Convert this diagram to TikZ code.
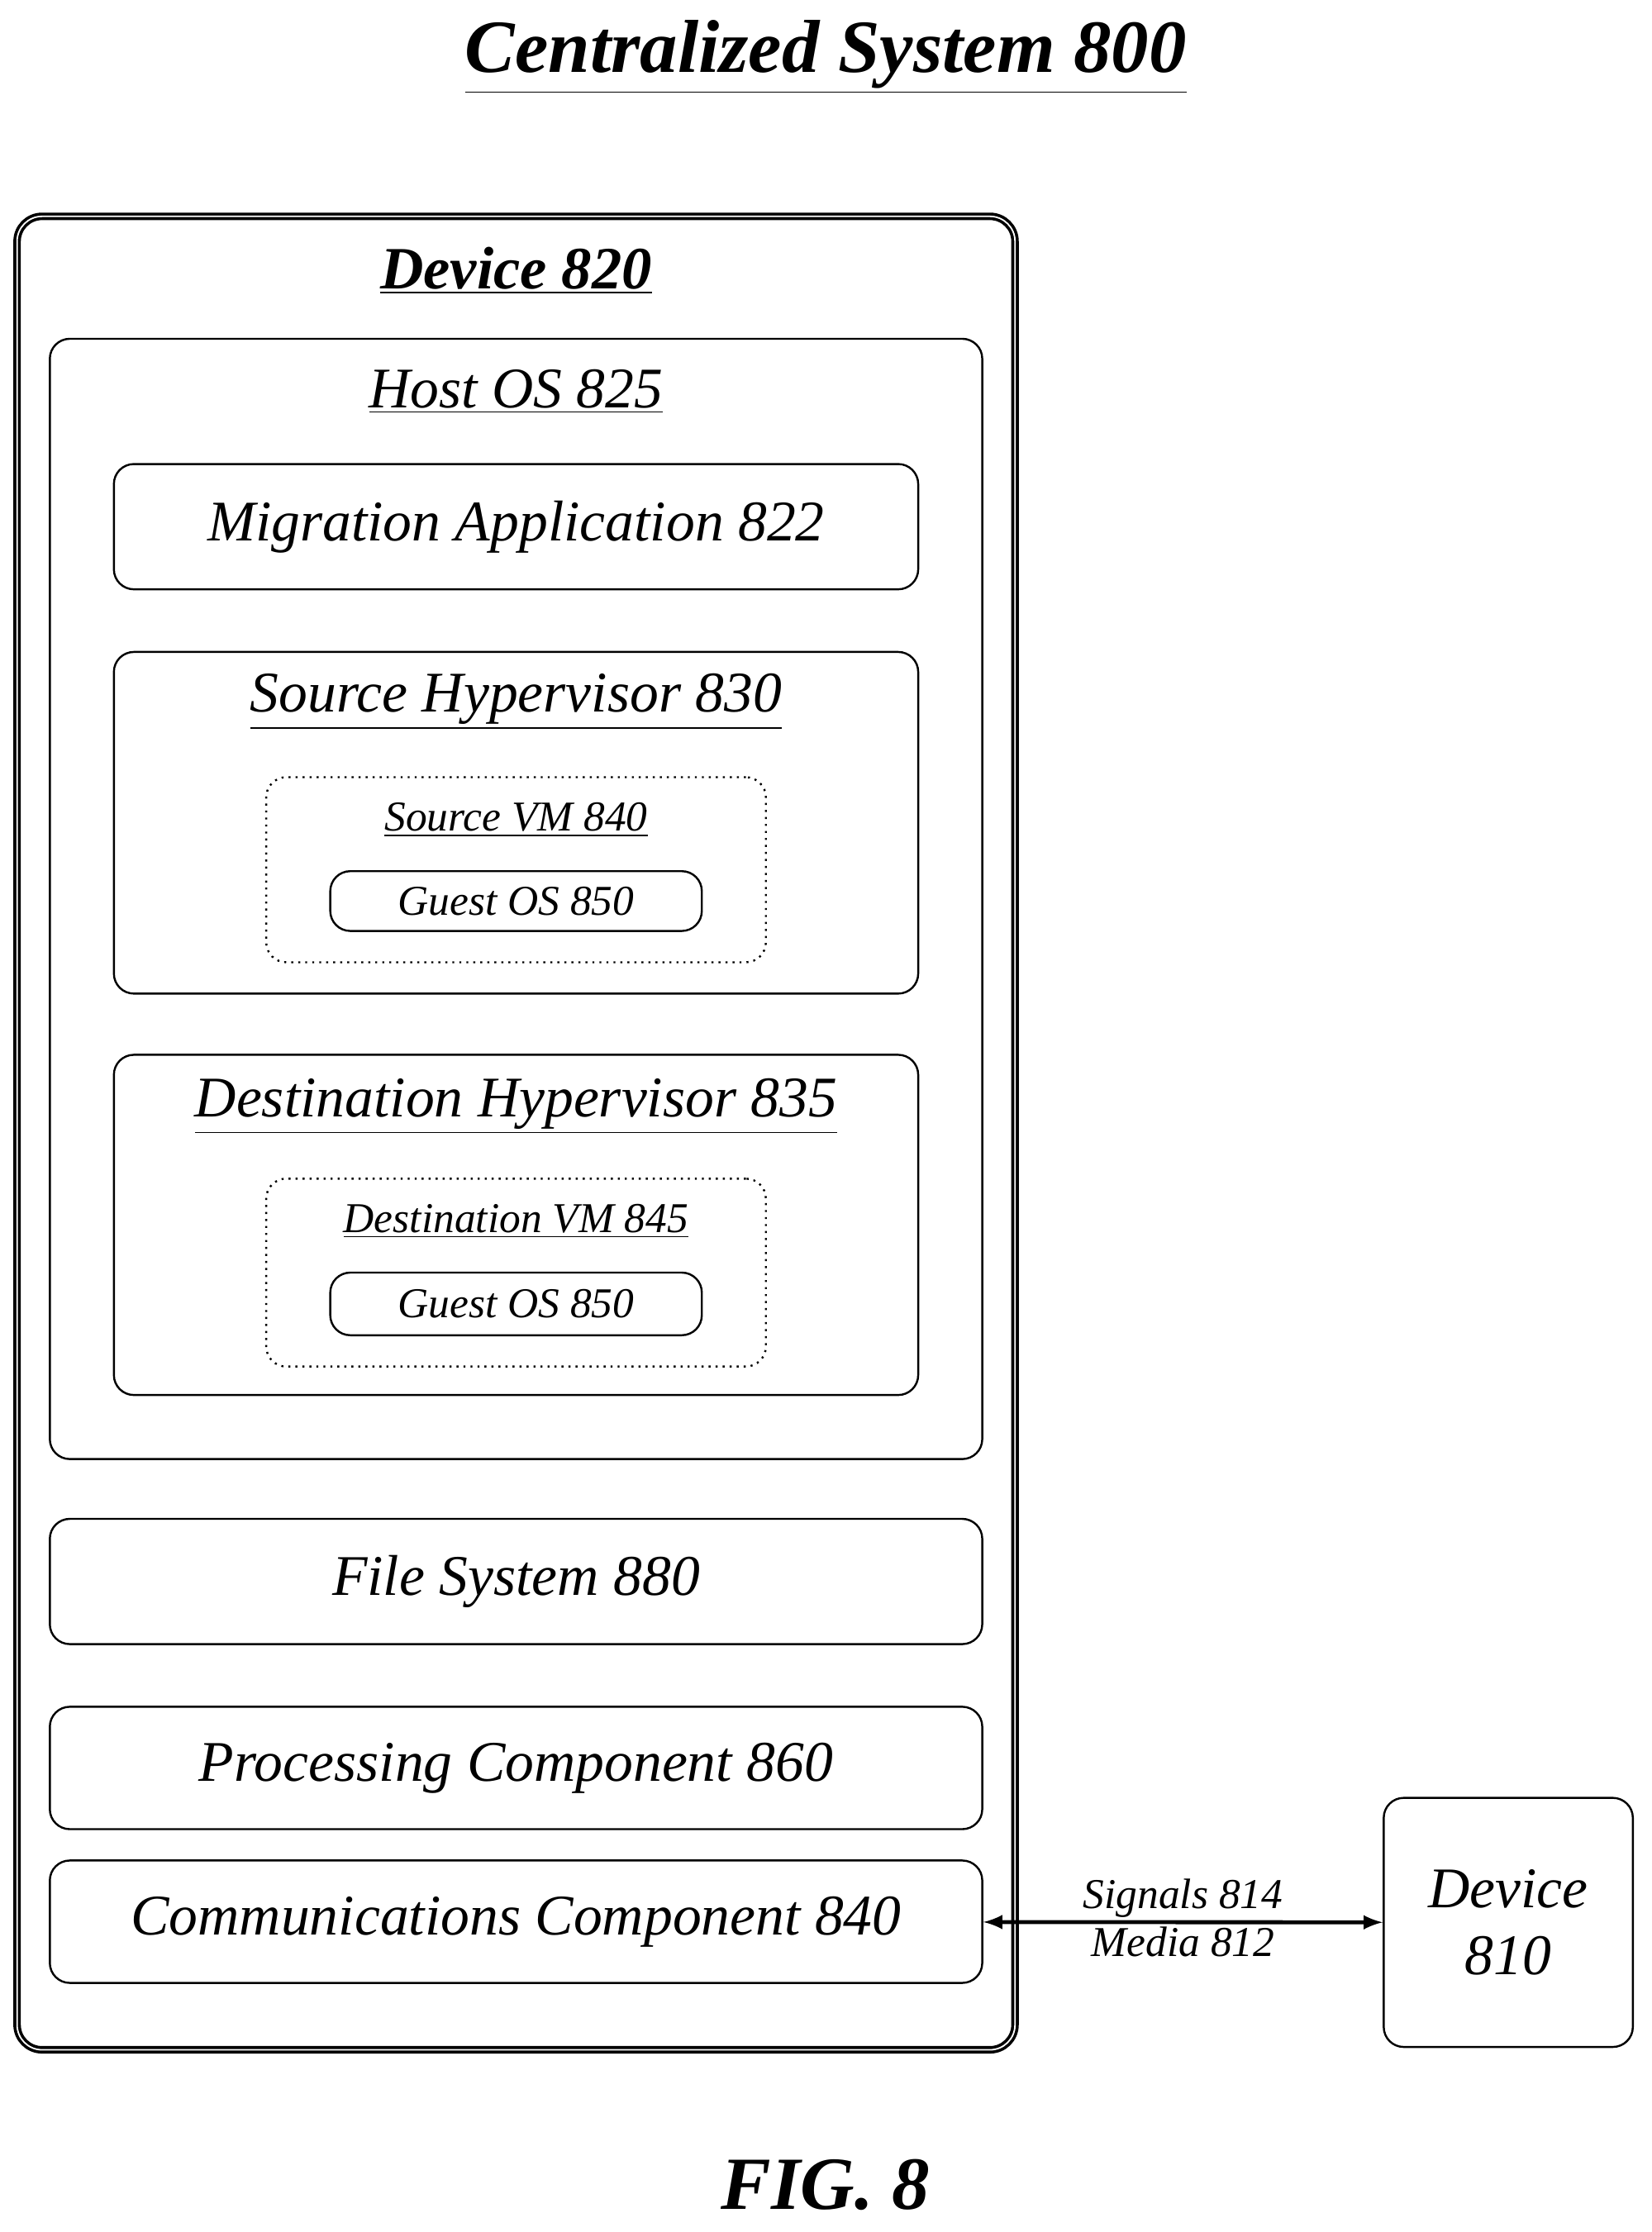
\documentclass[tikz,border=0pt]{standalone}
\usepackage{fontspec}
\setmainfont{Liberation Serif}
\usepackage{tikz}
\usetikzlibrary{arrows}
\usetikzlibrary{positioning}
\tikzset{
  box/.style={draw, thick, rounded corners=8pt, font=\itshape\fontsize{23}{27}\selectfont},
  vmbox/.style={draw, thick, dotted, rounded corners=8pt},
  small/.style={font=\itshape\fontsize{17}{20}\selectfont},
}
\newcommand{\ul}[1]{\underline{#1}}

\begin{document}
\begin{tikzpicture}

  \useasboundingbox (0,0) rectangle (23.2,-31.36);

  % Title
  \node[font=\bfseries\itshape\fontsize{30}{34}\selectfont] (Title) at (11.6,-0.8) {\ul{Centralized System 800}};

  % Device 820 and its parts
  \node[draw, very thick, double, rounded corners=10pt, minimum width=14.02cm, minimum height=25.76cm] (Dev820) at (7.25,-15.92) {};
  \node[font=\bfseries\itshape\fontsize{24}{28}\selectfont] (Dev820Lbl) at (7.25,-3.8) {\ul{Device 820}};

  \node[box, minimum width=13.1cm, minimum height=15.74cm] (HostOS) at (7.25,-12.63) {};
  \node[font=\itshape\fontsize{23}{27}\selectfont] (HostOSLbl) at (7.25,-5.5) {\ul{Host OS 825}};

  \node[box, minimum width=11.3cm, minimum height=1.76cm] (MigApp) at (7.25,-7.4) {Migration Application 822};

  % Source side
  \node[box, minimum width=11.3cm, minimum height=4.8cm] (SrcHyp) at (7.25,-11.56) {};
  \node[font=\itshape\fontsize{23}{27}\selectfont] (SrcHypLbl) at (7.25,-9.86) {\ul{Source Hypervisor 830}};
  \node[vmbox, minimum width=7.02cm, minimum height=2.6cm] (SrcVM) at (7.25,-12.22) {};
  \node[small] (SrcVMLbl) at (7.25,-11.52) {\ul{Source VM 840}};
  \node[box, small, minimum width=5.22cm, minimum height=0.84cm] (Guest1) at (7.25,-12.66) {Guest OS 850};

  % Destination side
  \node[box, minimum width=11.3cm, minimum height=4.78cm] (DstHyp) at (7.25,-17.21) {};
  \node[font=\itshape\fontsize{23}{27}\selectfont] (DstHypLbl) at (7.25,-15.54) {\ul{Destination Hypervisor 835}};
  \node[vmbox, minimum width=7.02cm, minimum height=2.64cm] (DstVM) at (7.25,-17.88) {};
  \node[small] (DstVMLbl) at (7.25,-17.16) {\ul{Destination VM 845}};
  \node[box, small, minimum width=5.22cm, minimum height=0.88cm] (Guest2) at (7.25,-18.32) {Guest OS 850};

  % Lower components
  \node[box, minimum width=13.1cm, minimum height=1.76cm] (FileSys) at (7.25,-22.22) {File System 880};
  \node[box, minimum width=13.1cm, minimum height=1.72cm] (Proc) at (7.25,-24.84) {Processing Component 860};
  \node[box, minimum width=13.1cm, minimum height=1.72cm] (Comm) at (7.25,-27.0) {Communications Component 840};

  % Device 810
  \node[box, align=center, minimum width=3.5cm, minimum height=3.5cm] (Dev810) at (21.19,-27.01) {Device\\810};

  \draw[<->, >=latex, ultra thick] (Comm) -- (Dev810)
    node[midway, above, inner sep=1pt, small] (Sig) {Signals 814}
    node[midway, below, inner sep=1pt, small] (Med) {Media 812};

  \node[font=\bfseries\itshape\fontsize{30}{34}\selectfont] (Fig) at (11.6,-30.7) {FIG. 8};

\end{tikzpicture}
\end{document}
